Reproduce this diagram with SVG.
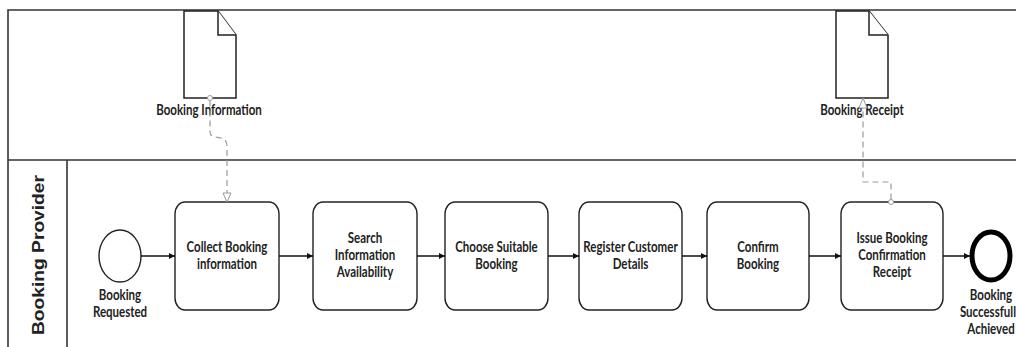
<svg xmlns="http://www.w3.org/2000/svg" width="1016" height="347" viewBox="0 0 1016 347">
  <style>
    .pool { fill: none; stroke: #333; stroke-width: 1.6; }
    .doc { fill: #fff; stroke: #222; stroke-width: 1.5; }
    .task { fill: #fff; stroke: #222; stroke-width: 1.4; }
    .start { fill: #fff; stroke: #222; stroke-width: 1.4; }
    .end { fill: #fff; stroke: #000; stroke-width: 5; }
    .flow { fill: none; stroke: #111; stroke-width: 1.5; marker-end: url(#arrow); }
    .assoc { fill: none; stroke: #9a9a9a; stroke-width: 1.2; stroke-dasharray: 6 4; }
    .assoc-dot { fill: #fff; stroke: #9a9a9a; stroke-width: 1; }
    .assoc-head { fill: #fff; stroke: #9a9a9a; stroke-width: 1; }
    .lbl { font-family: Lato, "Liberation Sans", sans-serif; font-size: 11.5px; font-weight: bold; fill: #222; text-anchor: middle; }
    .lane { font-family: "Liberation Sans", Arial, sans-serif; font-size: 17px; font-weight: bold; fill: #222; text-anchor: middle; }
  </style>
  <defs>
    <marker id="arrow" viewBox="0 0 10 10" refX="10" refY="5" markerWidth="6" markerHeight="6" markerUnits="userSpaceOnUse" orient="auto">
      <path d="M0,0 L10,5 L0,10 z" fill="#111"/>
    </marker>
  </defs>

  <rect width="1016" height="347" fill="#fff"/>

  <!-- pool frame and lane -->
  <g id="pool">
    <path class="pool" d="M1016,10 H8 V347"/>
    <path class="pool" d="M8,160 H1016"/>
    <path class="pool" d="M67,160 V347"/>
    <text class="lane" transform="translate(44 255) rotate(-90)" textLength="160" lengthAdjust="spacingAndGlyphs">Booking Provider</text>
  </g>

  <!-- data objects -->
  <g id="doc-booking-information">
    <path class="doc" d="M184,11 H218 L236,35 V98 H184 Z"/>
    <path class="doc" d="M218,11 V35 H236" fill="none"/>
    <text class="lbl" transform="translate(209 115) scale(1 1.3)">Booking Information</text>
  </g>
  <g id="doc-booking-receipt">
    <path class="doc" d="M836,11 H869 L888,35 V98 H836 Z"/>
    <path class="doc" d="M869,11 V35 H888" fill="none"/>
    <text class="lbl" transform="translate(862 115) scale(1 1.3)">Booking Receipt</text>
  </g>

  <!-- events -->
  <g id="start-booking-requested">
    <ellipse class="start" cx="120" cy="256" rx="21" ry="26"/>
    <text class="lbl" transform="translate(120 300) scale(1 1.3)">Booking<tspan x="0" dy="13">Requested</tspan></text>
  </g>
  <g id="end-booking-achieved">
    <ellipse class="end" cx="991" cy="256" rx="19" ry="24"/>
    <text class="lbl" transform="translate(991 300) scale(1 1.3)">Booking<tspan x="0" dy="13">Successfully</tspan><tspan x="0" dy="13">Achieved</tspan></text>
  </g>

  <!-- tasks -->
  <g id="task-collect">
    <rect class="task" x="175" y="202" width="104" height="108" rx="10" ry="12"/>
    <text class="lbl" transform="translate(227 252) scale(1 1.3)">Collect Booking<tspan x="0" dy="13">information</tspan></text>
  </g>
  <g id="task-search">
    <rect class="task" x="313" y="202" width="104" height="108" rx="10" ry="12"/>
    <text class="lbl" transform="translate(365 243) scale(1 1.3)">Search<tspan x="0" dy="13">Information</tspan><tspan x="0" dy="13">Availability</tspan></text>
  </g>
  <g id="task-choose">
    <rect class="task" x="445" y="202" width="103" height="108" rx="10" ry="12"/>
    <text class="lbl" transform="translate(496.5 252) scale(1 1.3)">Choose Suitable<tspan x="0" dy="13">Booking</tspan></text>
  </g>
  <g id="task-register">
    <rect class="task" x="579" y="202" width="103" height="108" rx="10" ry="12"/>
    <text class="lbl" transform="translate(630.5 252) scale(1 1.3)">Register Customer<tspan x="0" dy="13">Details</tspan></text>
  </g>
  <g id="task-confirm">
    <rect class="task" x="707" y="202" width="102" height="108" rx="10" ry="12"/>
    <text class="lbl" transform="translate(758 252) scale(1 1.3)">Confirm<tspan x="0" dy="13">Booking</tspan></text>
  </g>
  <g id="task-issue">
    <rect class="task" x="841" y="202" width="102" height="108" rx="10" ry="12"/>
    <text class="lbl" transform="translate(892 243) scale(1 1.3)">Issue Booking<tspan x="0" dy="13">Confirmation</tspan><tspan x="0" dy="13">Receipt</tspan></text>
  </g>

  <!-- connectors -->
  <g id="connectors">
    <path class="flow" d="M141,256 H175"/>
    <path class="flow" d="M279,256 H313"/>
    <path class="flow" d="M417,256 H445"/>
    <path class="flow" d="M548,256 H579"/>
    <path class="flow" d="M682,256 H707"/>
    <path class="flow" d="M809,256 H841"/>
    <path class="flow" d="M943,256 H970"/>

    <!-- data association: Booking Information -> Collect Booking information -->
    <path class="assoc" d="M210,100.5 V132 C210,141 227,133 227,146 V193"/>
    <circle class="assoc-dot" cx="210" cy="98" r="2.5"/>
    <path class="assoc-head" d="M223,193 L231,193 L227,202 Z"/>

    <!-- data association: Issue Booking Confirmation Receipt -> Booking Receipt -->
    <path class="assoc" d="M891,199.5 V182 H863 V107"/>
    <circle class="assoc-dot" cx="891" cy="202" r="2.5"/>
    <path class="assoc-head" d="M859,108 L867,108 L863,98 Z"/>
  </g>
</svg>
